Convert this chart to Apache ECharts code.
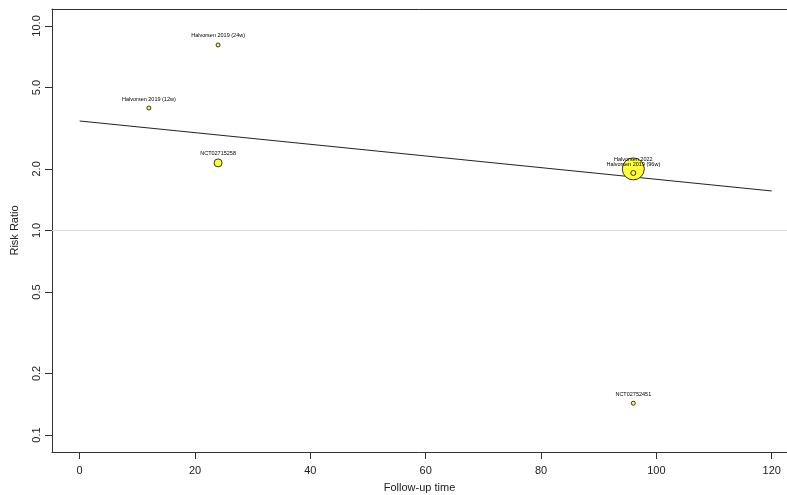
<!DOCTYPE html>
<html>
<head>
<meta charset="utf-8">
<script src="https://cdn.jsdelivr.net/npm/echarts@6/dist/echarts.min.js"></script>
<style>html,body{margin:0;padding:0;background:#fff;}#c{width:787px;height:495px;}</style>
</head>
<body>
<div id="c"></div>
<script>
const studies = ["Halvorsen 2019 (24w)", "Halvorsen 2019 (12w)", "NCT02715258", "Halvorsen 2022", "Halvorsen 2019 (96w)", "NCT02752451"];
const followUp = [24, 12, 24, 96, 96, 96];
const riskRatio = [8.07, 3.97, 2.14, 2.0, 1.91, 0.143];
const pointSize = [4, 4, 8, 22, 5, 4];
const regressionX = [0, 120];
const regressionY = [3.43, 1.56];
const xTicks = [0, 20, 40, 60, 80, 100, 120];
const yTicks = [0.1, 0.2, 0.5, 1, 2, 5, 10];

const font = 'Liberation Sans, Arial, Helvetica, sans-serif';
const chart = echarts.init(document.getElementById('c'));
chart.setOption({
  animation: false,
  backgroundColor: '#fff',
  grid: { left: 52, top: 9, right: 0, height: 443, show: false, containLabel: false, outerBoundsMode: 'none' },
  xAxis: [{
    type: 'value', min: -4.8, max: 122.65, position: 'bottom',
    name: 'Follow-up time', nameLocation: 'middle', nameGap: 30,
    nameTextStyle: { fontFamily: font, fontSize: 11, color: '#222' },
    axisLine: { show: true, onZero: false, lineStyle: { color: '#333', width: 1 } },
    splitLine: { show: false },
    axisTick: { show: true, inside: false, length: 7, lineStyle: { color: '#333' }, customValues: xTicks },
    axisLabel: { fontFamily: font, fontSize: 11, color: '#222', margin: 13, customValues: xTicks }
  }, {
    type: 'value', min: -4.8, max: 122.65, position: 'top',
    axisLine: { show: true, onZero: false, lineStyle: { color: '#333', width: 1 } },
    splitLine: { show: false }, axisTick: { show: false }, axisLabel: { show: false }
  }],
  yAxis: {
    type: 'log', min: 0.0826, max: 12.1, logBase: 10,
    name: 'Risk Ratio', nameLocation: 'middle', nameGap: 32,
    nameTextStyle: { fontFamily: font, fontSize: 11, color: '#222' },
    axisLine: { show: true, onZero: false, lineStyle: { color: '#333', width: 1 } },
    splitLine: { show: false },
    axisTick: { show: true, inside: false, length: 7, lineStyle: { color: '#333' }, customValues: yTicks },
    axisLabel: { fontFamily: font, fontSize: 11, color: '#222', margin: 10, rotate: 90,
      customValues: yTicks, formatter: v => Number(v).toFixed(1) }
  },
  series: [
    {
      type: 'line',
      data: regressionX.map((x, i) => [x, regressionY[i]]),
      symbol: 'none',
      lineStyle: { color: '#222', width: 1 },
      z: 2,
      markLine: {
        silent: true, symbol: 'none', label: { show: false },
        lineStyle: { color: '#d8d8d8', width: 1, type: 'solid' },
        data: [{ yAxis: 1 }]
      }
    },
    {
      type: 'scatter',
      z: 3,
      data: studies.map((s, i) => ({ name: s, value: [followUp[i], riskRatio[i]], symbolSize: pointSize[i] })),
      itemStyle: { color: '#ffff33', borderColor: '#333', borderWidth: 1, opacity: 1 },
      label: {
        show: true, position: 'inside', offset: [0, -9],
        formatter: p => p.name,
        fontFamily: font, fontSize: 5.5, color: '#000'
      }
    }
  ]
});
</script>
</body>
</html>
